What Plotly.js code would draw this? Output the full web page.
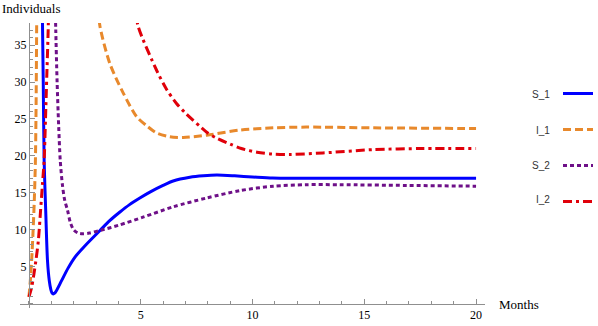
<!DOCTYPE html>
<html>
<head>
<meta charset="utf-8">
<script src="https://cdn.plot.ly/plotly-3.0.1.min.js"></script>
<style>
  html, body { margin: 0; padding: 0; background: #fff; }
  #chart { width: 598px; height: 326px; }
</style>
</head>
<body>
<div id="chart"></div>
<script>
// values (months, individuals)
const s1Months = [0.6, 0.61, 0.64, 0.68, 0.75, 0.83, 0.91, 0.98, 1.03, 1.09, 1.15, 1.22, 1.46, 1.75, 2.06, 2.5, 3.18, 3.6, 4.07, 4.5, 4.96, 5.41, 6.0, 6.45, 7.2, 7.8, 8.4, 9.2, 10.0, 10.9, 12, 14, 16, 18, 20];
const s1Values = [40, 37, 30, 19.4, 12.6, 5.8, 3.1, 1.9, 1.45, 1.3, 1.4, 1.7, 3.1, 4.8, 6.3, 7.8, 9.9, 11.2, 12.4, 13.4, 14.3, 15.1, 16.0, 16.6, 17.1, 17.3, 17.4, 17.3, 17.15, 17.0, 16.97, 16.97, 16.97, 16.97, 16.97];

const i1Months = [0, 0.06, 0.12, 0.18, 0.24, 0.29, 0.32, 0.34, 0.35, 1.5, 3.1, 3.18, 3.62, 4.22, 4.82, 5.3, 5.71, 6.3, 6.9, 7.95, 9.44, 10.93, 12.4, 15.4, 20];
const i1Values = [0.9, 3, 5.8, 9.5, 14, 19.5, 27, 35, 40, null, 40, 37.5, 32.5, 28.5, 25.3, 24, 23.1, 22.6, 22.5, 22.8, 23.5, 23.8, 23.9, 23.8, 23.7];

const s2Months = [1.18, 1.2, 1.26, 1.33, 1.4, 1.5, 1.6, 1.73, 1.85, 2.0, 2.2, 2.4, 2.7, 3.18, 4.0, 5.1, 6.45, 7.95, 9.44, 10.93, 12.4, 13.9, 16.9, 20];
const s2Values = [40, 37, 30, 24, 19.4, 16, 14, 12.6, 11, 10.0, 9.55, 9.45, 9.55, 9.9, 10.6, 11.7, 13.1, 14.3, 15.3, 15.9, 16.1, 16.1, 16.0, 15.9];

const i2Months = [0, 0.12, 0.31, 0.42, 0.52, 0.6, 0.68, 0.74, 0.8, 0.86, 0.88, 2.5, 4.75, 4.89, 5.71, 6.16, 6.6, 7.0, 7.65, 8.0, 8.4, 9.0, 9.5, 10.2, 10.9, 11.7, 13.15, 15.4, 17.6, 20];
const i2Values = [0.9, 2.2, 5.8, 8.5, 12.6, 16, 19.4, 25, 31, 37, 40, null, 40, 37.5, 31.6, 29, 27.1, 25.8, 24.0, 23.1, 22.4, 21.6, 21.0, 20.5, 20.25, 20.2, 20.4, 20.85, 21.0, 21.0];

const seriesNames = ["S_1", "I_1", "S_2", "I_2"];
const xTickVals = [5, 10, 15, 20];
const yTickVals = [5, 10, 15, 20, 25, 30, 35];

(function () {
  const X_RANGE = [-0.4, 20.4];
  const Y_RANGE = [-0.6, 38];
  const axisGrey = "#8f8f8f";
  const serif = "'Liberation Serif', 'Times New Roman', serif";
  const sans = "'Liberation Sans', Arial, sans-serif";

  const styles = [
    { color: "#0000ff", dash: "solid" },
    { color: "#e8892c", dash: "8px,4px" },
    { color: "#6e1088", dash: "4px,3px" },
    { color: "#e0000a", dash: "9px,4px,3px,4px" }
  ];

  const xs = [s1Months, i1Months, s2Months, i2Months];
  const ys = [s1Values, i1Values, s2Values, i2Values];

  const traces = seriesNames.map((name, i) => ({
    type: "scatter",
    mode: "lines",
    name: " ",
    legendgroup: name,
    x: xs[i],
    y: ys[i],
    connectgaps: false,
    line: { color: styles[i].color, width: 3, dash: styles[i].dash, shape: "spline", smoothing: 0.8 },
    hoverinfo: "skip"
  }));

  // plot area runs from px 20 to 485 horizontally and 23 to 308 vertically
  const plotW = 465, plotH = 285, left = 20, top = 23;
  const px = (p) => (p - left) / plotW;
  const py = (p) => (top + plotH - p) / plotH;

  const legendRows = [94, 130, 165, 200];
  const annotations = seriesNames.map((name, i) => ({
    text: name,
    xref: "paper", yref: "paper",
    x: px(552), y: py(legendRows[i]),
    xanchor: "right", yanchor: "middle",
    showarrow: false,
    font: { family: sans, size: 10, color: "#333" }
  }));
  annotations.push({
    text: "Individuals", xref: "paper", yref: "paper",
    x: px(0), y: py(8), xanchor: "left", yanchor: "middle",
    showarrow: false, font: { family: serif, size: 13, color: "#000" }
  });
  annotations.push({
    text: "Months", xref: "paper", yref: "paper",
    x: px(497), y: py(304), xanchor: "left", yanchor: "middle",
    showarrow: false, font: { family: serif, size: 13, color: "#000" }
  });

  const baseAxis = {
    showgrid: false,
    zeroline: false,
    showline: true,
    linecolor: axisGrey,
    linewidth: 1,
    ticks: "inside",
    ticklen: 5,
    tickcolor: axisGrey,
    tickmode: "array",
    tickfont: { family: serif, size: 12, color: "#000" },
    minor: { tickmode: "linear", tick0: 0, dtick: 1, ticks: "inside", ticklen: 3, tickcolor: axisGrey }
  };

  const layout = {
    width: 598,
    height: 326,
    paper_bgcolor: "#fff",
    plot_bgcolor: "#fff",
    margin: { l: left, r: 598 - left - plotW, t: top, b: 326 - top - plotH, autoexpand: false },
    showlegend: true,
    legend: {
      x: px(558), y: py(79),
      xanchor: "left", yanchor: "top",
      traceorder: "grouped",
      tracegroupgap: 17,
      font: { family: sans, size: 10 },
      bgcolor: "rgba(0,0,0,0)",
      borderwidth: 0
    },
    xaxis: Object.assign({}, baseAxis, {
      range: X_RANGE,
      tickvals: xTickVals,
      anchor: "free",
      position: (0 - Y_RANGE[0]) / (Y_RANGE[1] - Y_RANGE[0])
    }),
    yaxis: Object.assign({}, baseAxis, {
      range: Y_RANGE,
      tickvals: yTickVals,
      anchor: "free",
      position: (0 - X_RANGE[0]) / (X_RANGE[1] - X_RANGE[0])
    }),
    annotations
  };

  Plotly.newPlot("chart", traces, layout, { displayModeBar: false, staticPlot: true });
})();
</script>
</body>
</html>
